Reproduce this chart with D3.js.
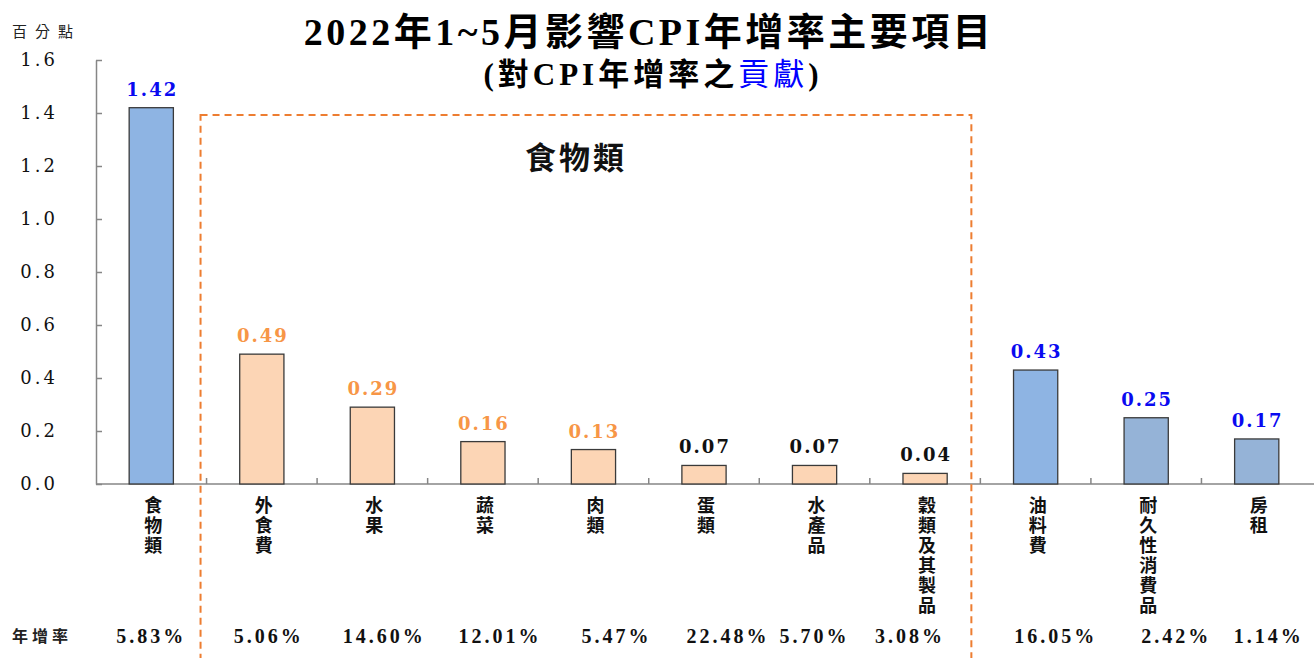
<!DOCTYPE html>
<html>
<head>
<meta charset="utf-8">
<script src="https://cdn.jsdelivr.net/npm/d3@7"></script>
<style>
    body { margin: 0; background: #fff; }
    svg { display: block; }
</style>
</head>
<body>
<svg id="chart" width="1314" height="658"></svg>
<script>
/*Категории (подписи по оси X)*/
const categories = ["食物類","外食費","水果","蔬菜","肉類","蛋類","水產品","穀類及其製品","油料費","耐久性消費品","房租"];
/*Вклад в годовой рост ИПЦ, процентные пункты*/
const contributions = [1.42, 0.49, 0.29, 0.16, 0.13, 0.07, 0.07, 0.04, 0.43, 0.25, 0.17];
/*Годовой рост (нижняя строка)*/
const yoyRates = ["5.83%","5.06%","14.60%","12.01%","5.47%","22.48%","5.70%","3.08%","16.05%","2.42%","1.14%"];
/*Тип столбца - от него цвет*/
const barKinds = ["blue","food","food","food","food","foodSmall","foodSmall","foodSmall","blue","grayBlue","grayBlue"];
const yTicks = [0, 0.2, 0.4, 0.6, 0.8, 1.0, 1.2, 1.4, 1.6];

const fills = { blue: "#8EB4E3", grayBlue: "#95B3D7", food: "#FCD5B5", foodSmall: "#FCD5B5" };
const labelColors = { blue: "#0A0AF0", grayBlue: "#0A0AF0", food: "#F79646", foodSmall: "#111" };
/*сдвиг подписей нижней строки, как на исходной картинке*/
const rateNudge = [0, 7, 12, 17, 23, 24, 0, -15, 20, 30, 12];

const cjk = '"Noto Sans CJK TC", "Noto Sans CJK SC", sans-serif';
const svg = d3.select("#chart");

const plotLeft = 96, plotRight = 1312, plotTop = 60, plotBottom = 484;

const slot = d3.scaleBand().domain(categories).range([plotLeft, plotRight]);
const y = d3.scaleLinear().domain([0, 1.6]).range([plotBottom, plotTop]);
const barW = slot.bandwidth() * 0.4;

/*Заголовок*/
svg.append("text")
    .attr("x", 649).attr("y", 45)
    .attr("text-anchor", "middle")
    .attr("font-family", '"Liberation Serif", ' + cjk)
    .attr("font-weight", "bold")
    .attr("font-size", 38)
    .attr("letter-spacing", 3.5)
    .text("2022年1~5月影響CPI年增率主要項目");

const sub = svg.append("text")
    .attr("x", 653).attr("y", 85)
    .attr("text-anchor", "middle")
    .attr("font-family", '"Liberation Serif", ' + cjk)
    .attr("font-weight", "bold")
    .attr("font-size", 31)
    .attr("letter-spacing", 4);
sub.append("tspan").text("(對CPI年增率之");
sub.append("tspan").attr("fill", "#0000FF").attr("font-weight", "normal").text("貢獻");
sub.append("tspan").text(")");

/*Единицы*/
svg.append("text")
    .attr("x", 12).attr("y", 37)
    .attr("font-family", cjk)
    .attr("font-size", 15)
    .attr("letter-spacing", 8)
    .attr("fill", "#222")
    .text("百分點");

/*Ось Y*/
const yAxis = svg.append("g")
    .attr("transform", `translate(${plotLeft},0)`)
    .call(d3.axisLeft(y).tickValues(yTicks).tickFormat(d3.format(".1f"))
        .tickSizeInner(-6).tickSizeOuter(0).tickPadding(38));
yAxis.select(".domain").attr("stroke", "#868686").attr("stroke-width", 1.5);
yAxis.selectAll(".tick line").attr("stroke", "#868686").attr("stroke-width", 1.5);
yAxis.selectAll(".tick text")
    .attr("font-family", '"DejaVu Serif", serif')
    .attr("font-size", 18)
    .attr("letter-spacing", 3)
    .attr("fill", "#111");

/*Ось X: линия и метки между категориями*/
svg.append("line")
    .attr("x1", plotLeft).attr("x2", 1314)
    .attr("y1", plotBottom).attr("y2", plotBottom)
    .attr("stroke", "#868686").attr("stroke-width", 1.5);
svg.append("g").selectAll("line")
    .data(categories.slice(1))
    .enter().append("line")
        .attr("x1", d => slot(d)).attr("x2", d => slot(d))
        .attr("y1", plotBottom).attr("y2", plotBottom - 6)
        .attr("stroke", "#868686").attr("stroke-width", 1.5);

/*Столбцы*/
svg.append("g").selectAll("rect")
    .data(contributions)
    .enter().append("rect")
        .attr("x", (d, i) => slot(categories[i]) + (slot.bandwidth() - barW) / 2)
        .attr("y", d => y(d))
        .attr("width", barW)
        .attr("height", d => plotBottom - y(d))
        .attr("fill", (d, i) => fills[barKinds[i]])
        .attr("stroke", "#3a3a3a")
        .attr("stroke-width", 1.3);

/*Подписи значений*/
svg.append("g").selectAll("text")
    .data(contributions)
    .enter().append("text")
        .attr("x", (d, i) => slot(categories[i]) + slot.bandwidth() / 2 + 1)
        .attr("y", d => y(d) - 12)
        .attr("text-anchor", "middle")
        .attr("font-family", '"DejaVu Serif", serif')
        .attr("font-weight", "bold")
        .attr("font-size", 18)
        .attr("letter-spacing", 2)
        .attr("fill", (d, i) => labelColors[barKinds[i]])
        .text(d => d.toFixed(2));

/*Вертикальные подписи категорий*/
svg.append("g").selectAll("text")
    .data(categories)
    .enter().append("text")
        .attr("x", d => slot(d) + slot.bandwidth() / 2 + 2)
        .attr("y", 496)
        .attr("text-anchor", "start")
        .style("writing-mode", "vertical-rl")
        .attr("font-family", cjk)
        .attr("font-weight", "bold")
        .attr("font-size", 18)
        .attr("letter-spacing", 2)
        .attr("fill", "#111")
        .text(d => d);

/*Нижняя строка: годовой рост*/
svg.append("text")
    .attr("x", 12).attr("y", 642)
    .attr("font-family", cjk)
    .attr("font-weight", "bold")
    .attr("font-size", 16)
    .attr("letter-spacing", 4)
    .attr("fill", "#222")
    .text("年增率");

svg.append("g").selectAll("text")
    .data(yoyRates)
    .enter().append("text")
        .attr("x", (d, i) => slot(categories[i]) + slot.bandwidth() / 2 + rateNudge[i])
        .attr("y", 643)
        .attr("text-anchor", "middle")
        .attr("font-family", '"Liberation Serif", serif')
        .attr("font-weight", "bold")
        .attr("font-size", 20)
        .attr("letter-spacing", 3)
        .attr("fill", "#111")
        .text(d => d);

/*Рамка группы "食物類"*/
const boxLeft = slot("外食費") - 6,
    boxRight = slot("油料費") - 9;
svg.append("rect")
    .attr("x", boxLeft).attr("y", 115)
    .attr("width", boxRight - boxLeft)
    .attr("height", 600)
    .attr("fill", "none")
    .attr("stroke", "#ED7D31")
    .attr("stroke-width", 2)
    .attr("stroke-dasharray", "7,5");

svg.append("text")
    .attr("x", 576).attr("y", 169)
    .attr("text-anchor", "middle")
    .attr("font-family", cjk)
    .attr("font-weight", "bold")
    .attr("font-size", 31)
    .attr("letter-spacing", 3)
    .attr("fill", "#111")
    .text("食物類");
</script>
</body>
</html>
